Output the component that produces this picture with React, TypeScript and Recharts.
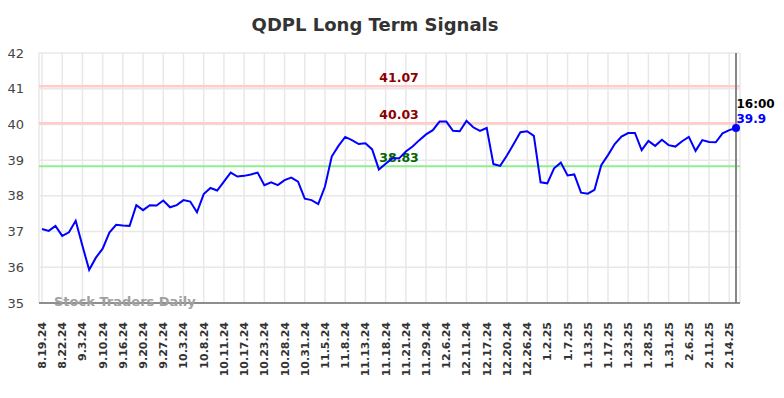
import React from 'react';
import { LineChart, Line, XAxis, YAxis, CartesianGrid, ReferenceLine, ReferenceDot } from 'recharts';

const tickLabels = [
  '8.19.24', '8.22.24', '9.3.24', '9.10.24', '9.16.24', '9.20.24', '9.27.24', '10.3.24', '10.8.24',
  '10.11.24', '10.17.24', '10.23.24', '10.28.24', '10.31.24', '11.5.24', '11.8.24', '11.13.24',
  '11.18.24', '11.21.24', '11.29.24', '12.6.24', '12.11.24', '12.17.24', '12.20.24', '12.26.24',
  '1.2.25', '1.7.25', '1.13.25', '1.17.25', '1.23.25', '1.28.25', '1.31.25', '2.6.25', '2.11.25', '2.14.25',
];

const closes = [
  37.07, 37.02, 37.16, 36.88, 36.98, 37.30, 36.60, 35.93, 36.27, 36.52,
  36.97, 37.19, 37.17, 37.16, 37.74, 37.60, 37.74, 37.73, 37.87, 37.68,
  37.74, 37.88, 37.84, 37.54, 38.05, 38.22, 38.15, 38.40, 38.65, 38.54,
  38.56, 38.60, 38.65, 38.30, 38.38, 38.30, 38.44, 38.51, 38.40, 37.92,
  37.88, 37.77, 38.26, 39.10, 39.40, 39.65, 39.56, 39.45, 39.47, 39.30,
  38.74, 38.90, 39.05, 39.05, 39.24, 39.38, 39.56, 39.72, 39.84, 40.08,
  40.08, 39.82, 39.81, 40.10, 39.92, 39.82, 39.90, 38.89, 38.84, 39.13,
  39.45, 39.78, 39.81, 39.68, 38.38, 38.35, 38.77, 38.93, 38.57, 38.60,
  38.09, 38.06, 38.17, 38.86, 39.14, 39.45, 39.66, 39.76, 39.76, 39.28,
  39.54, 39.40, 39.57, 39.42, 39.38, 39.53, 39.65, 39.26, 39.56, 39.51,
  39.50, 39.75, 39.84, 39.90,
];

const yTicks = [35, 36, 37, 38, 39, 40, 41, 42];
const resistanceHigh = 41.07;
const resistanceLow = 40.03;
const supportLevel = 38.83;
const lastTime = '16:00';
const lastPrice = 39.9;
const title = 'QDPL Long Term Signals';
const watermark = 'Stock Traders Daily';

const FONT = '"DejaVu Sans", Verdana, sans-serif';

const data = closes.map((v, i) => ({ idx: i, price: v }));
const xTicks = tickLabels.map((_, k) => k * 3);
const lastIdx = closes.length - 1;

const XTick = (props: any) => {
  const { x, y, payload } = props;
  const label = tickLabels[Math.round(payload.value / 3)] ?? '';
  return (
    <text
      transform={`translate(${x},${y}) rotate(-90)`}
      textAnchor="end"
      dy="0.36em"
      fontSize={11}
      fontWeight="bold"
      fill="#333"
      fontFamily={FONT}
    >
      {label}
    </text>
  );
};

const levelLabel = (text: string, color: string) => (props: any) => {
  const vb = props.viewBox || {};
  return (
    <text
      x={vb.x + vb.width * 0.5136}
      y={vb.y - 4}
      textAnchor="middle"
      fontSize={12.5}
      fontWeight="bold"
      fill={color}
      fontFamily={FONT}
    >
      {text}
    </text>
  );
};

const lastLabel = (props: any) => {
  const vb = props.viewBox || {};
  const cx = vb.x + (vb.width || 0) / 2;
  const cy = vb.y + (vb.height || 0) / 2;
  return (
    <g>
      <text x={cx + 0.5} y={cy - 20} fontSize={12} fontWeight="bold" fill="#000" fontFamily={FONT}>
        {lastTime}
      </text>
      <text x={cx + 0.5} y={cy - 5.5} fontSize={12} fontWeight="bold" fill="#0000ff" fontFamily={FONT}>
        {String(lastPrice)}
      </text>
    </g>
  );
};

export default function App() {
  return (
    <div style={{ position: 'absolute', left: 0, top: 0, width: 784, height: 398, background: '#fff' }}>
      <LineChart width={784} height={398} data={data} margin={{ top: 53, right: 44, bottom: 0, left: 0 }}>
        <CartesianGrid stroke="#e8e8e8" strokeWidth={1.5} />
        <XAxis
          dataKey="idx"
          type="number"
          domain={[0, lastIdx]}
          ticks={xTicks}
          interval={0}
          padding={{ left: 3, right: 4 }}
          height={95}
          tickLine={false}
          tickSize={6}
          tickMargin={13}
          axisLine={{ stroke: '#6e6e6e', strokeWidth: 1.5 }}
          tick={<XTick />}
        />
        <YAxis
          type="number"
          domain={[35, 42]}
          ticks={yTicks}
          width={39}
          axisLine={false}
          tickLine={false}
          tickSize={6}
          tickMargin={9}
          tick={{ fontSize: 13, fill: '#444', fontFamily: FONT }}
        />
        <ReferenceLine y={resistanceHigh} stroke="#ffcccc" strokeWidth={2.5} label={levelLabel(resistanceHigh.toFixed(2), '#8b0000')} />
        <ReferenceLine y={resistanceLow} stroke="#ffcccc" strokeWidth={2.5} label={levelLabel(resistanceLow.toFixed(2), '#8b0000')} />
        <ReferenceLine y={supportLevel} stroke="#90ee90" strokeWidth={2} label={levelLabel(supportLevel.toFixed(2), '#006400')} />
        <ReferenceLine x={lastIdx} stroke="#888" strokeWidth={2} />
        <Line
          type="linear"
          dataKey="price"
          stroke="#0000ff"
          strokeWidth={2}
          dot={false}
          activeDot={false}
          isAnimationActive={false}
        />
        <ReferenceDot x={lastIdx} y={lastPrice} r={4} fill="#0000ff" stroke="none" label={lastLabel} />
      </LineChart>
      <svg width={784} height={398} style={{ position: 'absolute', left: 0, top: 0, pointerEvents: 'none' }}>
        <text x={375} y={31} textAnchor="middle" fontSize={18} fontWeight="bold" fill="#333" fontFamily={FONT}>
          {title}
        </text>
        <text x={54} y={305.5} fontSize={13} fontWeight="bold" fill="#a0a0a0" fontFamily={FONT}>
          {watermark}
        </text>
      </svg>
    </div>
  );
}
